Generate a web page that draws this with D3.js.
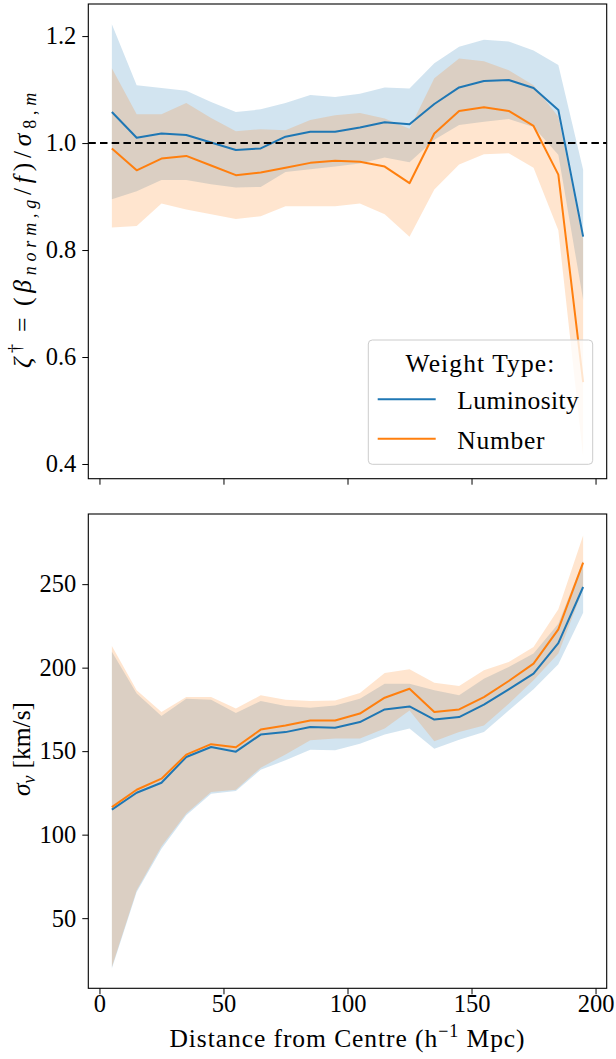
<!DOCTYPE html>
<html>
<head>
<meta charset="utf-8">
<script src="https://cdn.jsdelivr.net/npm/d3@7/dist/d3.min.js"></script>
<style>
  html, body { margin: 0; padding: 0; background: #fff; }
  svg { display: block; }
</style>
</head>
<body>
<svg id="chart" width="616" height="1059"></svg>
<script>
// ---------------- data ----------------
const distance = [5, 15, 25, 35, 45, 55, 65, 75, 85, 95, 105, 115, 125, 135, 145, 155, 165, 175, 185, 195];

// top panel: zeta dagger
const zetaLum      = [1.058, 1.010, 1.018, 1.015, 1.001, 0.987, 0.990, 1.012, 1.021, 1.021, 1.029, 1.039, 1.035, 1.073, 1.104, 1.116, 1.118, 1.103, 1.062, 0.825];
const zetaLumUpper = [1.222, 1.108, 1.103, 1.098, 1.077, 1.058, 1.063, 1.075, 1.090, 1.086, 1.092, 1.104, 1.102, 1.149, 1.180, 1.193, 1.190, 1.173, 1.146, 0.950];
const zetaLumLower = [0.895, 0.910, 0.931, 0.931, 0.923, 0.917, 0.918, 0.946, 0.951, 0.956, 0.962, 0.973, 0.964, 1.006, 1.034, 1.040, 1.045, 1.030, 0.978, 0.707];
const zetaNum      = [0.990, 0.949, 0.971, 0.976, 0.958, 0.940, 0.945, 0.954, 0.963, 0.967, 0.965, 0.956, 0.925, 1.018, 1.060, 1.067, 1.060, 1.032, 0.941, 0.553];
const zetaNumUpper = [1.140, 1.054, 1.054, 1.075, 1.047, 1.022, 1.026, 1.024, 1.043, 1.052, 1.056, 1.046, 1.027, 1.121, 1.158, 1.153, 1.136, 1.108, 1.049, 0.820];
const zetaNumLower = [0.842, 0.845, 0.887, 0.876, 0.867, 0.858, 0.863, 0.882, 0.882, 0.882, 0.887, 0.867, 0.825, 0.913, 0.960, 0.979, 0.981, 0.954, 0.837, 0.414];

// bottom panel: sigma_v
const sigLum      = [115.0, 125.1, 131.1, 146.5, 152.5, 149.7, 159.9, 161.4, 164.4, 164.0, 167.4, 175.0, 176.8, 168.9, 170.4, 177.8, 187.0, 196.4, 214.7, 248.3];
const sigLumUpper = [209.5, 184.5, 171.0, 181.4, 180.8, 172.8, 180.0, 177.0, 176.0, 177.4, 181.4, 190.4, 190.4, 186.4, 183.4, 193.4, 200.4, 208.4, 226.3, 264.0];
const sigLumLower = [19.8, 65.6, 91.6, 111.6, 124.5, 126.1, 138.9, 144.5, 150.9, 150.5, 154.5, 160.0, 163.5, 151.5, 156.9, 161.4, 174.4, 187.0, 202.0, 232.9];
const sigNum      = [116.5, 126.9, 133.5, 147.9, 154.2, 152.3, 162.9, 165.3, 168.4, 168.4, 172.5, 182.0, 187.4, 173.4, 175.0, 182.4, 192.0, 202.4, 222.9, 262.9];
const sigNumUpper = [213.0, 186.5, 173.5, 182.4, 182.4, 175.6, 183.4, 180.8, 180.0, 180.4, 184.8, 196.8, 199.0, 191.0, 189.0, 198.4, 203.4, 212.3, 234.9, 279.2];
const sigNumLower = [20.7, 66.7, 93.0, 112.6, 125.5, 126.9, 140.1, 148.0, 156.5, 157.5, 157.5, 163.5, 174.4, 156.0, 161.4, 165.4, 178.4, 192.4, 208.4, 247.0];

const xTicks = [0, 50, 100, 150, 200];
const zetaTicks = [0.4, 0.6, 0.8, 1.0, 1.2];
const sigTicks = [50, 100, 150, 200, 250];
const seriesNames = ["Luminosity", "Number"];
const legendTitle = "Weight Type:";

// ---------------- layout ----------------
const BLUE = "#1f77b4", ORANGE = "#ff7f0e";
const left = 88.3, right = 606.7;
const top1 = 4, bot1 = 478.7, top2 = 514, bot2 = 988.3;
const FS = 24.5, LFS = 25.5, SFS = 18;
const FONT = "'Liberation Serif', serif";

const svg = d3.select("#chart");

const x = d3.scaleLinear().domain([-4.5, 204.5]).range([left, right]);
const y1 = d3.scaleLinear().domain([0.3725, 1.26]).range([bot1, top1]);
const y2 = d3.scaleLinear().domain([8, 292]).range([bot2, top2]);

function rows(mean, lo, hi) {
  return distance.map((d, i) => ({ x: d, m: mean[i], lo: lo[i], hi: hi[i] }));
}

function panel(yScale, series, clipId, topY, botY) {
  const g = svg.append("g");
  svg.append("clipPath").attr("id", clipId).append("rect")
    .attr("x", left).attr("y", topY).attr("width", right - left).attr("height", botY - topY);
  const plot = g.append("g").attr("clip-path", `url(#${clipId})`);
  series.forEach(s => {
    const area = d3.area().x(d => x(d.x)).y0(d => yScale(d.lo)).y1(d => yScale(d.hi));
    plot.append("path").datum(s.data).attr("d", area).attr("fill", s.color).attr("fill-opacity", 0.2);
  });
  series.forEach(s => {
    const line = d3.line().x(d => x(d.x)).y(d => yScale(d.m));
    plot.append("path").datum(s.data).attr("d", line).attr("fill", "none")
      .attr("stroke", s.color).attr("stroke-width", 2).attr("stroke-linejoin", "round");
  });
  return { g, plot };
}

function axes(g, yScale, yTickVals, yFmt, showX, topY, botY) {
  const ax = d3.axisBottom(x).tickValues(xTicks).tickSize(6).tickPadding(0)
    .tickFormat(showX ? d3.format("d") : () => "");
  const xa = g.append("g").attr("transform", `translate(0,${botY})`).call(ax);
  const ay = d3.axisLeft(yScale).tickValues(yTickVals).tickSize(6).tickPadding(6).tickFormat(yFmt);
  const ya = g.append("g").attr("transform", `translate(${left},0)`).call(ay);
  [xa, ya].forEach(a => {
    a.attr("font-family", FONT).attr("font-size", FS);
    a.select(".domain").remove();
    a.selectAll(".tick line").attr("stroke", "#000").attr("stroke-width", 1);
    a.selectAll(".tick text").attr("fill", "#000");
  });
  g.append("rect").attr("x", left).attr("y", topY).attr("width", right - left).attr("height", botY - topY)
    .attr("fill", "none").attr("stroke", "#000").attr("stroke-width", 1.1);
}

function ts(el, txt, opts = {}) {
  const t = el.append("tspan").text(txt);
  if (opts.it) t.attr("font-style", "italic");
  if (opts.fs) t.attr("font-size", opts.fs);
  if (opts.dy !== undefined) t.attr("dy", opts.dy);
  if (opts.dx !== undefined) t.attr("dx", opts.dx);
  return t;
}
function fitWidth(textSel, target) {
  const node = textSel.node();
  const len = node.getComputedTextLength();
  const n = node.textContent.length;
  if (n > 1 && len > 0) textSel.attr("letter-spacing", ((target - len) / n).toFixed(2));
}
function label(parent) {
  return parent.append("text").attr("font-family", FONT).attr("font-size", LFS).attr("fill", "#000");
}

// ---------------- top panel ----------------
const p1 = panel(y1, [
  { color: BLUE, data: rows(zetaLum, zetaLumLower, zetaLumUpper) },
  { color: ORANGE, data: rows(zetaNum, zetaNumLower, zetaNumUpper) }
], "clip1", top1, bot1);

p1.plot.append("line").attr("x1", left).attr("x2", right)
  .attr("y1", y1(1.0)).attr("y2", y1(1.0))
  .attr("stroke", "#000").attr("stroke-width", 2).attr("stroke-dasharray", "7.5,4.2");

axes(p1.g, y1, zetaTicks, d3.format(".1f"), false, top1, bot1);

// legend
const lg = p1.g.append("g");
lg.append("rect").attr("x", 368.3).attr("y", 340).attr("width", 224.4).attr("height", 124.3)
  .attr("rx", 4).attr("fill", "#fff").attr("fill-opacity", 0.8)
  .attr("stroke", "#cccccc").attr("stroke-width", 1);
const lt = label(lg).attr("x", 480.5).attr("y", 371.5).attr("text-anchor", "middle").text(legendTitle);
fitWidth(lt, 150);
[BLUE, ORANGE].forEach((c, i) => {
  const yy = 399.3 + i * 39.4;
  lg.append("line").attr("x1", 377.7).attr("x2", 435.7).attr("y1", yy).attr("y2", yy)
    .attr("stroke", c).attr("stroke-width", 2);
  const t = label(lg).attr("x", 457.3).attr("y", yy + 9.8).text(seriesNames[i]);
  fitWidth(t, i === 0 ? 122 : 88);
});

// y label top
const yl1 = label(svg).attr("transform", `translate(31,228) rotate(-90)`).attr("text-anchor", "middle");
ts(yl1, "ζ", { it: true });
ts(yl1, "†", { fs: SFS, dy: -10 });
ts(yl1, "=", { dy: 10, dx: 7 });
ts(yl1, "(", { dx: 7 });
ts(yl1, "β", { it: true });
ts(yl1, "norm,g", { it: true, fs: SFS, dy: 5 });
ts(yl1, "/", { dy: -5 });
ts(yl1, "f", { it: true });
ts(yl1, ")/");
ts(yl1, "σ", { it: true });
ts(yl1, "8,", { fs: SFS, dy: 5 });
ts(yl1, "m", { it: true, fs: SFS });
fitWidth(yl1, 266);

// ---------------- bottom panel ----------------
const p2 = panel(y2, [
  { color: BLUE, data: rows(sigLum, sigLumLower, sigLumUpper) },
  { color: ORANGE, data: rows(sigNum, sigNumLower, sigNumUpper) }
], "clip2", top2, bot2);
axes(p2.g, y2, sigTicks, d3.format("d"), true, top2, bot2);

const yl2 = label(svg).attr("transform", `translate(30,749) rotate(-90)`).attr("text-anchor", "middle");
ts(yl2, "σ", { it: true });
ts(yl2, "v", { it: true, fs: SFS, dy: 5 });
ts(yl2, "[km/s]", { dy: -5, dx: 7 });

// x label
const xl = label(svg).attr("x", (left + right) / 2).attr("y", 1047).attr("text-anchor", "middle");
ts(xl, "Distance from Centre (h");
ts(xl, "−1", { fs: SFS, dy: -10 });
ts(xl, " Mpc)", { dy: 10 });
fitWidth(xl, 356);
</script>
</body>
</html>
